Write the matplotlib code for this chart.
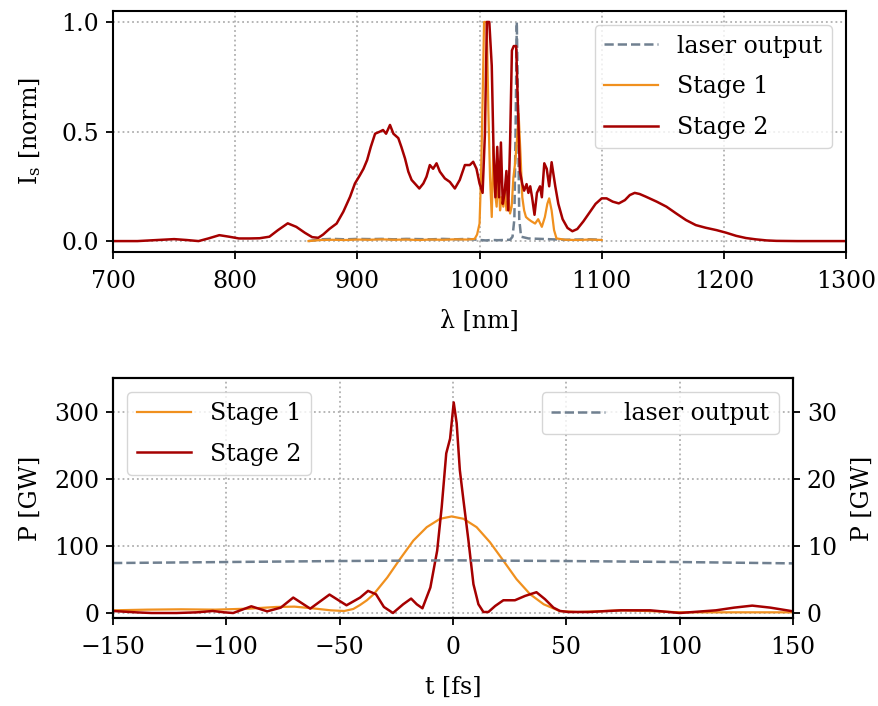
#!/usr/bin/env python3

import matplotlib
matplotlib.use("Agg")
import matplotlib.pyplot as plt

DPI = 100

ORANGE = "#f0901e"
RED = "#a50000"
GREY = "#708090"

# spectra (normalised)
lam_laser = [860, 870, 880, 890, 900, 910, 920, 930, 940, 950, 960, 970, 980,
             990, 1000, 1005, 1010, 1015, 1020, 1025, 1027, 1028.5, 1029.5,
             1030.5, 1031.5, 1032.5, 1034, 1040, 1050, 1060, 1070, 1080, 1090, 1100]
s_laser = [0.0, 0.008, 0.01, 0.008, 0.01, 0.009, 0.01, 0.008, 0.01, 0.009, 0.008,
           0.01, 0.008, 0.01, 0.005, 0.003, 0.005, 0.004, 0.005, 0.006, 0.02, 0.1,
           0.5, 1.0, 0.6, 0.1, 0.02, 0.012, 0.01, 0.008, 0.006, 0.007, 0.008, 0.006]

lam_s1 = [860, 870, 880, 890, 900, 910, 920, 930, 940, 950, 960, 970, 980, 990,
          996, 998, 1000, 1001.2, 1002.6, 1003.7, 1005.9, 1007.2, 1008.6, 1010,
          1011.3, 1012.7, 1014, 1015.4, 1016.8, 1018, 1019.5, 1020.8, 1022,
          1023.6, 1025, 1026.3, 1027.7, 1029, 1030.5, 1032, 1033.5, 1035, 1036.5,
          1038, 1040, 1042.5, 1045.5, 1048, 1051, 1053.5, 1055.5, 1057, 1059,
          1061, 1063, 1070, 1080, 1090, 1100]
s_s1 = [0.0, 0.005, 0.006, 0.005, 0.007, 0.006, 0.008, 0.006, 0.007, 0.005, 0.007,
        0.006, 0.008, 0.007, 0.01, 0.03, 0.08, 0.29, 0.67, 1.0, 1.0, 0.6, 0.29,
        0.11, 0.43, 0.22, 0.157, 0.32, 0.14, 0.2, 0.157, 0.23, 0.14, 0.19, 0.126,
        0.157, 0.29, 0.35, 0.45, 0.58, 0.4, 0.2, 0.14, 0.11, 0.10, 0.09, 0.08,
        0.10, 0.065, 0.11, 0.17, 0.195, 0.14, 0.05, 0.012, 0.006, 0.005, 0.007,
        0.005]

lam_s2 = [700, 710, 720, 730, 740, 750, 760, 770, 778, 787, 795, 803, 812, 820,
          828, 835, 843, 850, 857, 863, 868, 872, 877, 883, 888.5, 894, 898, 902,
          905, 908, 911, 914.5, 918.6, 921, 923.5, 926.7, 929.5, 933.5, 936, 939,
          941.7, 944.4, 947, 950.7, 954, 956.6, 959.3, 962, 964.8, 967.5, 971.6,
          975.7, 979.8, 983.8, 988, 992, 994.8, 997.5, 1000, 1002.5, 1004.4, 1006,
          1008, 1010, 1011.5, 1013, 1014.5, 1016, 1017.5, 1019, 1020.5, 1022,
          1023.5, 1025, 1026.5, 1028, 1030, 1031.5, 1033, 1035, 1036.5, 1038.5,
          1040, 1041.5, 1043, 1045, 1047, 1049.5, 1051, 1053, 1055, 1057, 1059,
          1062, 1064.5, 1068, 1072, 1076, 1080, 1085, 1090, 1095, 1100, 1104, 1109,
          1114, 1119, 1123, 1127, 1131, 1136, 1145, 1153, 1161, 1169, 1177, 1185,
          1194, 1202, 1210, 1218, 1226, 1235, 1243, 1260, 1280, 1300]
s_s2 = [0.0, 0.0, 0.0, 0.003, 0.006, 0.009, 0.005, 0.0, 0.012, 0.027, 0.02, 0.012,
        0.012, 0.013, 0.02, 0.05, 0.081, 0.065, 0.038, 0.018, 0.015, 0.03, 0.055,
        0.08, 0.134, 0.202, 0.263, 0.3, 0.33, 0.37, 0.43, 0.49, 0.5, 0.507, 0.49,
        0.53, 0.49, 0.47, 0.43, 0.377, 0.317, 0.279, 0.263, 0.24, 0.263, 0.294,
        0.347, 0.33, 0.355, 0.317, 0.286, 0.27, 0.24, 0.279, 0.347, 0.347, 0.362,
        0.33, 0.263, 0.22, 0.49, 1.0, 1.0, 0.8, 0.4, 0.2, 0.43, 0.2, 0.45, 0.17,
        0.22, 0.32, 0.14, 0.45, 0.87, 0.89, 0.89, 0.6, 0.32, 0.26, 0.23, 0.26,
        0.22, 0.25, 0.2, 0.12, 0.22, 0.25, 0.2, 0.355, 0.33, 0.25, 0.36, 0.25,
        0.17, 0.1, 0.06, 0.045, 0.055, 0.09, 0.13, 0.17, 0.195, 0.195, 0.18, 0.172,
        0.187, 0.21, 0.22, 0.215, 0.203, 0.18, 0.157, 0.126, 0.096, 0.073, 0.061,
        0.05, 0.038, 0.024, 0.014, 0.008, 0.003, 0.001, 0.0, 0.0, 0.0]

# temporal power [GW]
t_laser = [-150, -100, -50, 0, 50, 100, 150]
p_laser = [7.45, 7.6, 7.75, 7.85, 7.75, 7.6, 7.4]

t_s1 = [-150, -135, -120, -105, -90, -78, -70, -62, -54, -48, -44, -41, -38, -35,
        -29, -23.5, -17.5, -11.6, -5.7, -0.6, 4.6, 10.4, 16.3, 22.2, 28, 34, 40,
        47, 55, 75, 90, 100, 125, 150]
p_s1 = [4, 5, 5.5, 5, 6.5, 9, 9.5, 7, 4, 3, 6, 12, 19, 28, 53, 80, 108, 128,
        140.5, 144, 140.5, 128, 105.5, 78, 50.5, 28, 13, 3, 1.5, 4, 2.5, 1, 1, 1]

t_s2 = [-150, -145, -140, -133, -122, -113, -106, -101, -97, -89, -82, -76, -70.5,
        -63, -54.5, -47, -41, -37.5, -34, -30.5, -26.5, -22, -18.5, -16, -13.5,
        -10, -7, -5, -3, -1.3, 0.3, 1.6, 3, 4.6, 6.8, 9, 11.2, 13.4, 15.6, 18.6,
        22.2, 27.3, 31.8, 36.8, 40.6, 44.3, 47.2, 51, 60, 74, 87, 100, 116, 124,
        132, 140, 150]
p_s2 = [3, 2, 1, 0, 0, 1, 3, 1, 0, 10, 2.5, 8, 23, 6.5, 27.5, 11.5, 23, 33, 28,
        9, 0, 13, 21.5, 13, 7, 38, 93, 158, 238, 260, 314, 283, 213, 168, 108, 43,
        13, 1.5, 1.5, 10.5, 19, 19, 25.5, 31, 20.5, 8, 3, 1.5, 1.5, 4, 4, 0, 4, 8,
        11, 8, 2.5]

FS = 17


def style_axes(ax, grid=True):
    for s in ax.spines.values():
        s.set_linewidth(1.5)
    ax.tick_params(direction="out", length=5, width=1.3, labelsize=FS)
    ax.tick_params(axis="x", pad=8)
    ax.tick_params(axis="y", pad=5)
    if grid:
        ax.grid(color="#b0b0b0", linestyle=":", linewidth=1.3)


def main():
    plt.rcParams["font.family"] = ["DejaVu Serif"]
    plt.rcParams["mathtext.fontset"] = "dejavuserif"
    plt.rcParams["legend.edgecolor"] = "#cccccc"

    fig = plt.figure(figsize=(8.79, 7.06), dpi=DPI)

    # spectrum
    ax = fig.add_axes([0.1286, 0.643, 0.8339, 0.3414])
    ax.plot(lam_laser, s_laser, "--", color=GREY, lw=1.8, label="laser output")
    ax.plot(lam_s1, s_s1, color=ORANGE, lw=1.6, label="Stage 1")
    ax.plot(lam_s2, s_s2, color=RED, lw=1.8, label="Stage 2")
    ax.set_xlim(700, 1300)
    ax.set_ylim(-0.05, 1.05)
    ax.set_xticks(range(700, 1301, 100))
    ax.set_yticks([0, 0.5, 1.0])
    ax.set_yticklabels(["0.0", "0.5", "1.0"])
    ax.set_xlabel("λ [nm]", fontsize=FS, labelpad=12)
    ax.set_ylabel(r"I$_\mathrm{s}$ [norm]", fontsize=FS, labelpad=13)
    style_axes(ax)
    ax.legend(loc="upper right", fontsize=FS, handlelength=2.3,
              labelspacing=0.75, borderaxespad=0.6)

    # temporal power
    bx = fig.add_axes([0.1286, 0.1246, 0.7736, 0.3396])
    bx.plot(t_s1, p_s1, color=ORANGE, lw=1.6, label="Stage 1")
    bx.plot(t_s2, p_s2, color=RED, lw=1.8, label="Stage 2")
    bx.set_xlim(-150, 150)
    bx.set_ylim(-7.5, 350)
    bx.set_yticks([0, 100, 200, 300])
    bx.set_xlabel("t [fs]", fontsize=FS, labelpad=12)
    bx.set_ylabel("P [GW]", fontsize=FS, labelpad=9)
    style_axes(bx)
    bx.legend(loc="upper left", fontsize=FS, handlelength=2.3,
              labelspacing=0.75, borderaxespad=0.6)

    bx2 = bx.twinx()
    bx2.plot(t_laser, p_laser, "--", color=GREY, lw=1.8, label="laser output")
    bx2.set_ylim(-0.75, 35)
    bx2.set_yticks([0, 10, 20, 30])
    bx2.set_ylabel("P [GW]", fontsize=FS, labelpad=10)
    style_axes(bx2, grid=False)
    bx2.legend(loc="upper right", fontsize=FS, handlelength=2.3,
               borderaxespad=0.6)

    fig.savefig("out.png", dpi=DPI)


if __name__ == "__main__":
    main()
